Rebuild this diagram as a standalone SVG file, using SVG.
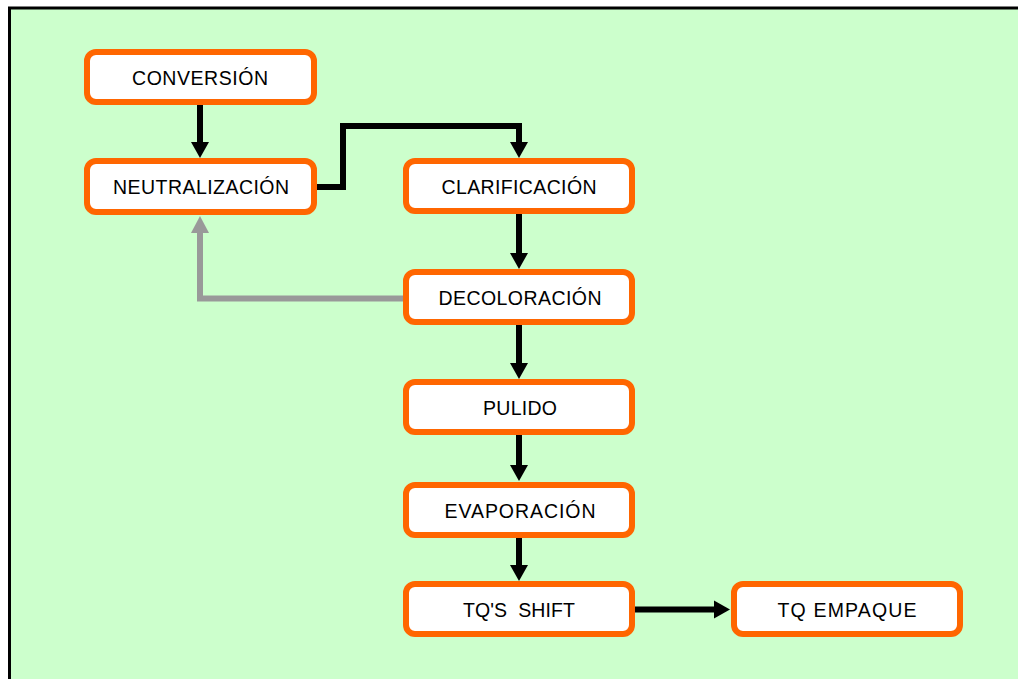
<svg xmlns="http://www.w3.org/2000/svg" width="1018" height="679" viewBox="0 0 1018 679">
  <style>
    .box { fill: #ffffff; stroke: #ff6600; stroke-width: 6; }
    .lbl { font-family: "Liberation Sans", Arial, sans-serif; font-size: 19.5px; fill: #000000; text-anchor: middle; }
    .flow { fill: none; stroke: #000000; stroke-width: 6; stroke-linejoin: miter; }
    .back { fill: none; stroke: #999999; stroke-width: 6; stroke-linejoin: miter; }
  </style>
  <defs>
    <marker id="head" markerUnits="userSpaceOnUse" markerWidth="17" markerHeight="18" refX="0" refY="9" orient="auto" overflow="visible">
      <path d="M0,0 L16,9 L0,18 z" fill="#000000"/>
    </marker>
    <marker id="headGray" markerUnits="userSpaceOnUse" markerWidth="17" markerHeight="18" refX="0" refY="9" orient="auto" overflow="visible">
      <path d="M0,0 L17,9 L0,18 z" fill="#999999"/>
    </marker>
  </defs>

  <!-- page and panel -->
  <rect x="0" y="0" width="1018" height="679" fill="#ffffff"/>
  <rect x="8" y="7" width="1010" height="672" fill="#ccffcc"/>
  <path d="M9.5,679 V8 H1018" fill="none" stroke="#000000" stroke-width="3"/>

  <!-- connectors -->
  <g id="connectors">
    <path class="flow" d="M200,105 V142" marker-end="url(#head)"/>
    <path class="flow" d="M317,187 H343 V126 H519 V142" marker-end="url(#head)"/>
    <path class="flow" d="M519,214 V253" marker-end="url(#head)"/>
    <path class="back" d="M403,298.5 H200 V233" marker-end="url(#headGray)"/>
    <path class="flow" d="M519,325 V363" marker-end="url(#head)"/>
    <path class="flow" d="M519,435 V465" marker-end="url(#head)"/>
    <path class="flow" d="M519,537 V565" marker-end="url(#head)"/>
    <path class="flow" d="M635,609.5 H714" marker-end="url(#head)"/>
  </g>

  <!-- process steps -->
  <g id="conversion">
    <rect class="box" x="87" y="52" width="227" height="50" rx="9"/>
    <text class="lbl" x="200" y="85" textLength="136" lengthAdjust="spacing">CONVERSIÓN</text>
  </g>
  <g id="neutralizacion">
    <rect class="box" x="87" y="161" width="227" height="51" rx="9"/>
    <text class="lbl" x="201" y="194" textLength="176" lengthAdjust="spacing">NEUTRALIZACIÓN</text>
  </g>
  <g id="clarificacion">
    <rect class="box" x="406" y="161" width="226" height="50" rx="9"/>
    <text class="lbl" x="519" y="194" textLength="155" lengthAdjust="spacing">CLARIFICACIÓN</text>
  </g>
  <g id="decoloracion">
    <rect class="box" x="406" y="272" width="226" height="50" rx="9"/>
    <text class="lbl" x="520" y="305" textLength="163" lengthAdjust="spacing">DECOLORACIÓN</text>
  </g>
  <g id="pulido">
    <rect class="box" x="406" y="382" width="226" height="50" rx="9"/>
    <text class="lbl" x="520" y="415" textLength="74" lengthAdjust="spacing">PULIDO</text>
  </g>
  <g id="evaporacion">
    <rect class="box" x="406" y="485" width="226" height="50" rx="9"/>
    <text class="lbl" x="520" y="518" textLength="151" lengthAdjust="spacing">EVAPORACIÓN</text>
  </g>
  <g id="tqs-shift">
    <rect class="box" x="406" y="584" width="226" height="50" rx="9"/>
    <text class="lbl" x="519" y="617" textLength="112" lengthAdjust="spacing">TQ'S&#160; SHIFT</text>
  </g>
  <g id="tq-empaque">
    <rect class="box" x="734" y="584" width="226" height="50" rx="9"/>
    <text class="lbl" x="847" y="617" textLength="139" lengthAdjust="spacing">TQ EMPAQUE</text>
  </g>
</svg>
